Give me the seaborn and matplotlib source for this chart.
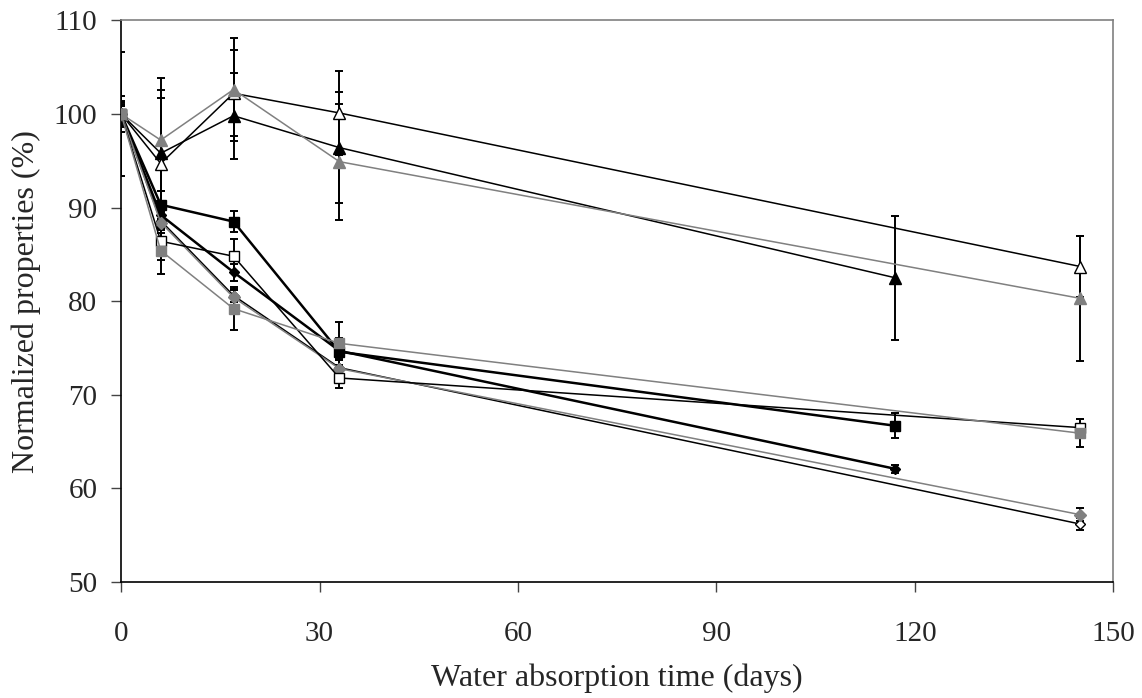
import matplotlib
matplotlib.use('Agg')
import pandas as pd
import matplotlib.pyplot as plt
import seaborn as sns
import numpy as np

# sampling days
days_a = [0, 6, 17, 33, 117]
days_b = [0, 6, 17, 33, 145]

# normalized property values (%) and error bars
tri_black = [100, 95.8, 99.8, 96.4, 82.5]
tri_black_err = [1.9, 8.0, 4.6, 5.9, 6.6]
tri_open = [100, 94.7, 102.2, 100.1, 83.7]
tri_open_err = [1.4, 7.0, 4.6, 4.5, 3.3]
tri_gray = [100, 97.2, 102.6, 94.9, 80.3]
tri_gray_err = [6.6, 5.4, 5.5, 6.2, 6.7]

sq_black = [100, 90.3, 88.5, 74.6, 66.7]
sq_black_err = [1.2, 1.5, 1.1, 1.5, 1.35]
sq_open = [100, 86.4, 84.8, 71.8, 66.5]
sq_open_err = [1.3, 2.0, 1.8, 1.1, 0.9]
sq_gray = [100, 85.4, 79.2, 75.5, 65.9]
sq_gray_err = [0.8, 2.5, 2.3, 2.3, 1.5]

dia_black = [100, 89.2, 83.1, 74.7, 62.1]
dia_black_err = [1.0, 1.3, 0.9, 0.9, 0.4]
dia_open = [100, 88.6, 80.6, 72.9, 56.2]
dia_open_err = [0.8, 1.0, 0.7, 0.8, 0.6]
dia_gray = [100, 88.4, 80.4, 72.8, 57.2]
dia_gray_err = [0.9, 1.1, 0.8, 0.9, 0.7]

gray = '#808080'
series = [
    # name, days, values, errors, marker, face, edge, line colour, line width, marker size
    ('tri_black', days_a, tri_black, tri_black_err, '^', 'black', 'black', 'black', 1.1, 8),
    ('tri_open', days_b, tri_open, tri_open_err, '^', 'white', 'black', 'black', 1.1, 8),
    ('tri_gray', days_b, tri_gray, tri_gray_err, '^', gray, gray, gray, 1.1, 8),
    ('sq_black', days_a, sq_black, sq_black_err, 's', 'black', 'black', 'black', 1.8, 6.5),
    ('dia_black', days_a, dia_black, dia_black_err, 'D', 'black', 'black', 'black', 1.8, 5.5),
    ('dia_open', days_b, dia_open, dia_open_err, 'D', 'white', 'black', 'black', 1.1, 5.5),
    ('dia_gray', days_b, dia_gray, dia_gray_err, 'D', gray, gray, gray, 1.1, 6),
    ('sq_open', days_b, sq_open, sq_open_err, 's', 'white', 'black', 'black', 1.1, 6.5),
    ('sq_gray', days_b, sq_gray, sq_gray_err, 's', gray, gray, gray, 1.1, 6.5),
]

sns.set_theme(style='ticks')
plt.rcParams['font.family'] = ['Liberation Serif', 'DejaVu Serif']

fig = plt.figure(figsize=(11.42, 6.98), dpi=100)
ax = fig.add_axes([0.106, 0.166, 0.869, 0.805])

for name, d, v, e, mk, fc, ec, lc, lw, ms in series:
    df = pd.DataFrame({'day': d, 'value': v, 'err': e})
    ax.errorbar(df['day'], df['value'], yerr=df['err'], fmt='none',
                ecolor='black', elinewidth=1.4, capsize=3, capthick=1.4, zorder=2)
    sns.lineplot(data=df, x='day', y='value', ax=ax, color=lc, linewidth=lw,
                 marker=mk, markersize=ms, markerfacecolor=fc,
                 markeredgecolor=ec, markeredgewidth=1.0, zorder=3)

ax.set_xlim(0, 150)
ax.set_ylim(50, 110)
ax.set_xticks(np.arange(0, 151, 30))
ax.set_yticks(np.arange(50, 111, 10))
ax.set_xlabel('Water absorption time (days)', fontsize=23, labelpad=12)
ax.set_ylabel('Normalized properties (%)', fontsize=23, labelpad=9)
ax.tick_params(axis='both', labelsize=21, length=7, width=1.0, direction='out',
               color='#444444')
ax.tick_params(axis='x', pad=21)
ax.tick_params(axis='y', pad=10)

for side in ['top', 'right']:
    ax.spines[side].set_visible(True)
    ax.spines[side].set_color(gray)
    ax.spines[side].set_linewidth(1.2)
for side in ['left', 'bottom']:
    ax.spines[side].set_color('black')
    ax.spines[side].set_linewidth(1.2)

fig.savefig('out.png', dpi=100)
